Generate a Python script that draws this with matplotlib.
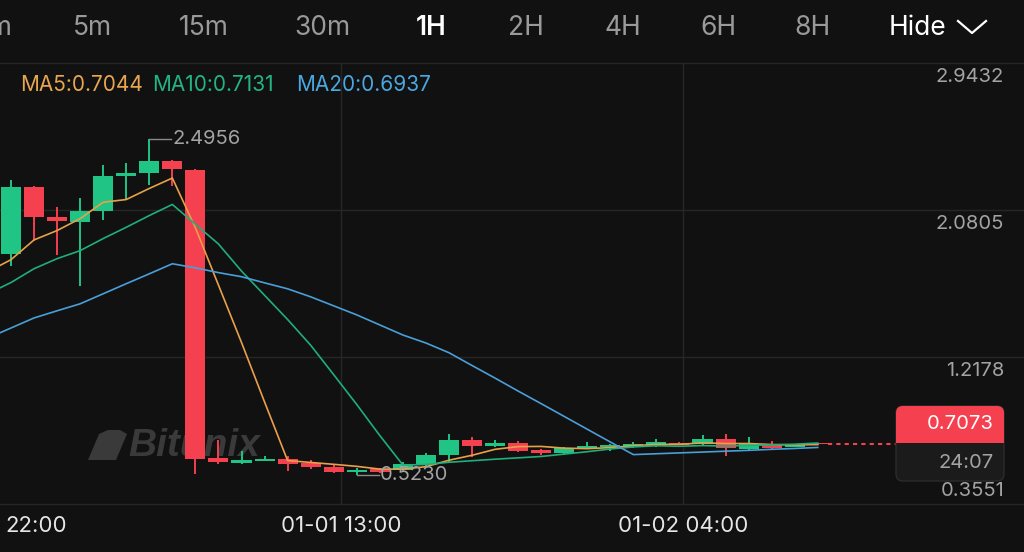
import matplotlib.pyplot as plt
import numpy as np
from matplotlib.patches import FancyBboxPatch, Polygon, Rectangle
from matplotlib.lines import Line2D
from matplotlib.transforms import IdentityTransform

# ---- data (1H candles) ----
opens = [1.824, 2.213, 2.042, 2.008, 2.072, 2.278, 2.297, 2.366, 2.313, 0.625,
         0.595, 0.607, 0.621, 0.595, 0.570, 0.540, 0.559, 0.555, 0.586, 0.645,
         0.733, 0.698, 0.715, 0.672, 0.655, 0.684, 0.690, 0.688, 0.693, 0.715,
         0.707, 0.739, 0.680, 0.704, 0.690, 0.710]
highs = [2.254, 2.219, 2.097, 2.150, 2.342, 2.356, 2.4956, 2.372, 2.319, 0.729,
         0.664, 0.639, 0.634, 0.611, 0.582, 0.566, 0.565, 0.600, 0.655, 0.766,
         0.746, 0.733, 0.726, 0.680, 0.690, 0.718, 0.707, 0.717, 0.735, 0.720,
         0.758, 0.766, 0.750, 0.727, 0.710, 0.715]
lows = [1.754, 1.901, 1.818, 1.632, 2.019, 2.146, 2.225, 2.219, 0.530, 0.587,
        0.590, 0.605, 0.550, 0.560, 0.535, 0.5230, 0.535, 0.550, 0.580, 0.595,
        0.629, 0.690, 0.660, 0.645, 0.650, 0.678, 0.665, 0.685, 0.690, 0.700,
        0.700, 0.634, 0.665, 0.674, 0.688, 0.700]
closes = [2.213, 2.042, 2.015, 2.072, 2.279, 2.297, 2.366, 2.319, 0.617, 0.599,
          0.615, 0.619, 0.592, 0.571, 0.544, 0.552, 0.540, 0.591, 0.645, 0.733,
          0.698, 0.715, 0.668, 0.652, 0.684, 0.695, 0.700, 0.707, 0.718, 0.704,
          0.739, 0.683, 0.707, 0.685, 0.703, 0.7073]

# moving averages (one point before the first visible candle too)
ma_idx = list(range(-1, 36))
ma5 = [1.718, 1.789, 1.905, 1.960, 2.030, 2.126, 2.142, 2.207, 2.268, 1.976,
       1.640, 1.303, 0.954, 0.610, 0.599, 0.588, 0.576, 0.560, 0.560, 0.574,
       0.612, 0.641, 0.676, 0.692, 0.693, 0.683, 0.680, 0.686, 0.697, 0.705,
       0.705, 0.714, 0.710, 0.710, 0.704, 0.702, 0.704]
ma10 = [1.589, 1.655, 1.736, 1.795, 1.842, 1.913, 1.979, 2.048, 2.113, 1.997,
        1.881, 1.722, 1.580, 1.438, 1.287, 1.114, 0.939, 0.757, 0.584, 0.587,
        0.600, 0.609, 0.618, 0.626, 0.634, 0.648, 0.662, 0.678, 0.690, 0.697,
        0.694, 0.698, 0.695, 0.699, 0.702, 0.706, 0.713]
ma20 = [1.329, 1.388, 1.447, 1.489, 1.530, 1.589, 1.648, 1.706, 1.765, 1.741,
        1.713, 1.689, 1.653, 1.618, 1.571, 1.518, 1.465, 1.406, 1.347, 1.300,
        1.243, 1.168, 1.094, 1.018, 0.944, 0.869, 0.794, 0.719, 0.645, 0.650,
        0.655, 0.660, 0.665, 0.670, 0.676, 0.681, 0.687]
ma_names = ['MA5', 'MA10', 'MA20']
ma_last = [0.7044, 0.7131, 0.6937]

price_levels = [2.9432, 2.0805, 1.2178, 0.3551]
time_labels = ['22:00', '01-01 13:00', '01-02 04:00']
time_pos = [-0.48, 14.32, 29.15]
intervals = ['1m', '5m', '15m', '30m', '1H', '2H', '4H', '6H', '8H']
selected = '1H'
countdown = '24:07'

# ---- colours ----
BG = '#111111'
GRID = '#262626'
GREEN = '#20c485'
RED = '#f5404f'
MA_COLORS = ['#e9a04a', '#1fae7c', '#4a9fd8']
MA_TEXT = ['#e8a650', '#22b582', '#4aa8e0']
GREY = '#a3a3a3'

plt.rcParams['font.family'] = ['Inter', 'DejaVu Sans']

W, H = 1024, 552
fig = plt.figure(figsize=(W / 100, H / 100), dpi=100, facecolor=BG)
px = IdentityTransform()


def fig_text(x, y, s, **kw):
    # x, y in pixels from the top-left corner
    fig.text(x, H - y, s, transform=px, **kw)


# main price panel between y=63 and y=504 px
ax = fig.add_axes([0, 48 / H, 1, 441 / H])
ax.set_facecolor(BG)
step = 23.05
ax.set_xlim(-11 / step, (W - 11) / step)
ax.set_ylim(price_levels[-1], price_levels[0])
ax.axis('off')

for p in price_levels:
    ax.axhline(p, color=GRID, lw=1, zorder=0, clip_on=False)
for t in time_pos[1:]:
    ax.axvline(t, color=GRID, lw=1, zorder=0)

# watermark
ax.text(128, H - 446, 'Bitunix', transform=px, family='Liberation Sans',
        fontsize=28, fontweight='bold', style='italic', color='#3a3a3a',
        va='center', ha='left', zorder=0.5)
logo = [(88, 460), (99, 434), (108, 430), (120, 430), (127, 434), (116, 460)]
ax.add_patch(Polygon([(a, H - b) for a, b in logo], closed=True, transform=px,
                     fc='#3a3a3a', ec='none', zorder=0.5))

# candles
x = np.arange(len(closes))
o = np.array(opens)
c = np.array(closes)
up = c >= o
colors = np.where(up, GREEN, RED)
ax.vlines(x, lows, highs, colors=colors, lw=1.4, zorder=2)
ax.bar(x, np.maximum(np.abs(c - o), 0.006), bottom=np.minimum(o, c),
       width=0.87, color=colors, linewidth=0, zorder=3)

# moving averages
for vals, col in zip([ma5, ma10, ma20], MA_COLORS):
    ax.plot(ma_idx, vals, color=col, lw=1.2, zorder=4)

# highest / lowest markers
hi_i = int(np.argmax(highs))
lo_i = int(np.argmin(lows))
for i, v in [(hi_i, highs[hi_i]), (lo_i, lows[lo_i])]:
    ax.plot([i, i + 0.95], [v, v], color='#8a8a8a', lw=1, zorder=5)
    ax.text(i + 1.0, v, f'{v:.4f}', color=GREY, fontsize=14.5,
            va='center', ha='left', zorder=5)

# last price dotted line
xmin, xmax = ax.get_xlim()
box_left = xmin + 896 / W * (xmax - xmin)
ax.plot([x[-1] + 0.45, box_left], [closes[-1], closes[-1]], color=RED,
        lw=1.5, linestyle=(0, (2, 2)), zorder=5)

# price axis labels (inside the plot, right side)
for p in price_levels:
    off = 13 if p == price_levels[-1] else -14
    ax.annotate(f'{p:.4f}', xy=(1004 / W, p), xycoords=ax.get_yaxis_transform(),
                xytext=(0, off * 0.72), textcoords='offset points',
                ha='right', va='center', color=GREY, fontsize=14.5)

# time labels below the panel
for i, (t, lab) in enumerate(zip(time_pos, time_labels)):
    if i == 0:
        fig_text(5, 526, lab, ha='left', va='center', color='#e6e6e6', fontsize=16)
    else:
        ax.text(t, -22 / 441, lab, transform=ax.get_xaxis_transform(),
                ha='center', va='center', color='#e6e6e6', fontsize=16)

# last price box + countdown
fig.add_artist(FancyBboxPatch((896, H - 481), 108, 75,
                              boxstyle='round,pad=0,rounding_size=7',
                              transform=px, fc='#1b1b1b', ec='#2c2c2c', lw=1))
fig.add_artist(FancyBboxPatch((896, H - 443), 108, 37,
                              boxstyle='round,pad=0,rounding_size=7',
                              transform=px, fc=RED, ec='none'))
fig.add_artist(Rectangle((896, H - 443), 108, 8, transform=px, fc=RED, ec='none'))
fig_text(994, 424, f'{closes[-1]:.4f}', ha='right', va='center',
         color='white', fontsize=14.5)
fig_text(994, 463, countdown, ha='right', va='center', color=GREY, fontsize=14.5)

# MA legend
leg_x = [20, 152, 296]
for lx, name, val, col in zip(leg_x, ma_names, ma_last, MA_TEXT):
    fig_text(lx, 85, f'{name}:{val:.4f}', ha='left', va='center',
             color=col, fontsize=15)

# interval selector bar (the first item is cut by the left edge, as on screen)
bar_x = [13, 92, 204, 322, 431, 526, 623, 718, 813]
bar_y = 28
for bx, lab in zip(bar_x, intervals):
    if lab == selected:
        fig_text(bx, bar_y, lab, ha='center', va='center', color='white',
                 fontsize=19, fontweight='semibold')
    elif bx == bar_x[0]:
        fig_text(bx, bar_y, lab, ha='right', va='center', color='#9a9a9a', fontsize=19)
    else:
        fig_text(bx, bar_y, lab, ha='center', va='center', color='#9a9a9a', fontsize=19)
fig_text(889, bar_y, 'Hide', ha='left', va='center', color='white', fontsize=19)
fig.add_artist(Line2D([958, 972, 986], [H - 21, H - 33, H - 21], transform=px,
                      color='white', lw=1.6))

fig.savefig('out.png', dpi=100, facecolor=BG)
